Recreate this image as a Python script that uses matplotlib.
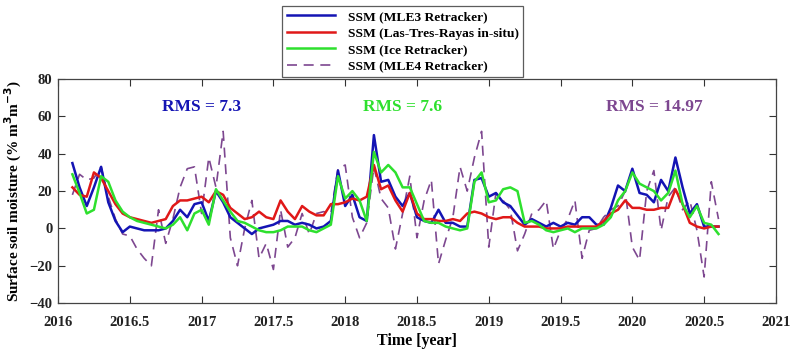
import numpy as np
import matplotlib
matplotlib.use("Agg")
from matplotlib import pyplot as plt

# sampling dates (decimal year), one value every 0.05 yr
years = np.round(np.arange(2016.10, 2020.601, 0.05), 2)

ssm_mle3 = [35, 22, 12, 22, 33, 14, 4, -2, 1, 0, -1, -1, -1, 0, 4, 10, 6, 13,
            14, 4, 20, 14, 6, 3, 0, -3, 0, 1, 2, 4, 4, 2, 3, 2, 0, 1, 4, 31,
            12, 18, 6, 4, 50, 25, 26, 17, 12, 19, 6, 4, 3, 10, 3, 3, 1, 1, 26, 27,
            17, 19, 14, 12, 7, 2, 5, 3, 1, 3, 1, 3, 2, 6, 6, 2, 2, 11, 23, 20,
            32, 19, 18, 14, 26, 20, 38, 22, 8, 13, 1, 1, 1]
ssm_insitu = [22, 18, 17, 30, 27, 20, 13, 8, 6, 5, 4, 3, 4, 5, 12, 15, 15, 16,
              17, 14, 20, 18, 11, 8, 5, 6, 9, 6, 5, 15, 9, 5, 12, 9, 7, 7, 13, 13,
              14, 16, 15, 17, 34, 21, 23, 15, 9, 19, 8, 5, 5, 4, 4, 5, 4, 8, 9, 8,
              6, 5, 6, 6, 3, 1, 1, 1, 0, 0, 0, 1, 1, 1, 1, 1, 4, 8, 10, 15,
              11, 11, 10, 10, 11, 11, 21, 13, 3, 1, 0, 1, 1]
ssm_ice = [29, 19, 8, 10, 28, 25, 15, 9, 6, 4, 3, 2, 1, 0, 2, 6, -1, 8,
           10, 2, 21, 15, 9, 4, 3, 1, -1, -2, -2, -1, 1, 1, 1, -1, -2, 0, 2, 28,
           16, 20, 15, 4, 41, 30, 34, 30, 22, 22, 13, 4, 3, 3, 1, 0, -1, 0, 25, 30,
           14, 15, 21, 22, 20, 3, 4, 2, -1, -2, -1, 0, -2, 0, 0, 0, 2, 6, 15, 20,
           30, 24, 22, 20, 15, 19, 31, 13, 6, 12, 3, 2, -3]
ssm_mle4 = [18, 29, 26, 27, 33, 17, 5, -3, -4, -11, -16, -20, 10, -8, 5, 22, 32, 33,
            8, 38, 22, 52, -5, -20, 0, 15, -16, -8, -22, 10, -10, -5, 8, -3, 8, 9, 8, 32,
            34, 6, -5, 3, 33, 16, 11, -11, 8, 28, -5, 15, 26, -19, -6, 6, 33, 20, 38, 52,
            -10, 19, 15, 10, -12, -3, 8, 10, 15, -11, -1, 5, 15, -16, -1, 0, 6, 10, 12, 20,
            -10, -17, 20, 31, -1, 17, 22, 10, 15, -1, -26, 25, 5]

labels = ["SSM (MLE3 Retracker)", "SSM (Las-Tres-Rayas in-situ)",
          "SSM (Ice Retracker)", "SSM (MLE4 Retracker)"]
rms_text = ["RMS = 7.3", "RMS = 7.6", "RMS = 14.97"]
rms_pos = [(2017.0, 65), (2018.4, 65), (2020.15, 65)]

c_blue, c_red, c_green, c_purple = "#1414b4", "#e01818", "#2ee02e", "#7d4790"

plt.rcParams['font.family'] = ['Liberation Serif', 'DejaVu Serif']
plt.rcParams['font.weight'] = 'bold'

fig = plt.figure(figsize=(7.95, 3.5), dpi=100)
ax = fig.add_axes([0.073, 0.134, 0.903, 0.640])

h4, = ax.plot(years, ssm_mle4, color=c_purple, lw=1.2, dashes=(6, 4), zorder=1)
h1, = ax.plot(years, ssm_mle3, color=c_blue, lw=1.8, zorder=2)
h2, = ax.plot(years, ssm_insitu, color=c_red, lw=1.8, zorder=3)
h3, = ax.plot(years, ssm_ice, color=c_green, lw=1.8, zorder=4)

for txt, (x, y), c in zip(rms_text, rms_pos, [c_blue, c_green, c_purple]):
    ax.text(x, y, txt, color=c, fontsize=12.5, fontweight='bold', ha='center', va='center')

ax.set_xlim(2016, 2021)
ax.set_ylim(-40, 80)
ax.set_xticks(np.arange(2016, 2021.01, 0.5))
ax.set_xticklabels(["2016", "2016.5", "2017", "2017.5", "2018", "2018.5",
                    "2019", "2019.5", "2020", "2020.5", "2021"])
ax.set_yticks(np.arange(-40, 81, 20))
ax.tick_params(direction='in', top=True, right=True, length=5, width=0.8,
               labelsize=10.5, colors='#333333', labelcolor='#222222')
ax.tick_params(axis='x', pad=9)
ax.tick_params(axis='y', pad=4)
for s in ax.spines.values():
    s.set_color('#444444')
    s.set_linewidth(0.9)

ax.set_xlabel("Time [year]", fontsize=11.5, fontweight='bold', labelpad=3)
ax.set_ylabel(r"Surface soil moisture (% m$^{\mathbf{3}}$m$^{\mathbf{-3}}$)",
              fontsize=11, fontweight='bold', labelpad=4)

leg = fig.legend([h1, h2, h3, h4], labels, loc='upper left',
                 bbox_to_anchor=(0.355, 0.983), borderaxespad=0, fontsize=9.7,
                 frameon=True, fancybox=False, edgecolor='#333333',
                 handlelength=3.6, labelspacing=0.3, borderpad=0.35,
                 handletextpad=0.9)
leg.get_frame().set_linewidth(0.9)

fig.savefig("out.png", dpi=100)
